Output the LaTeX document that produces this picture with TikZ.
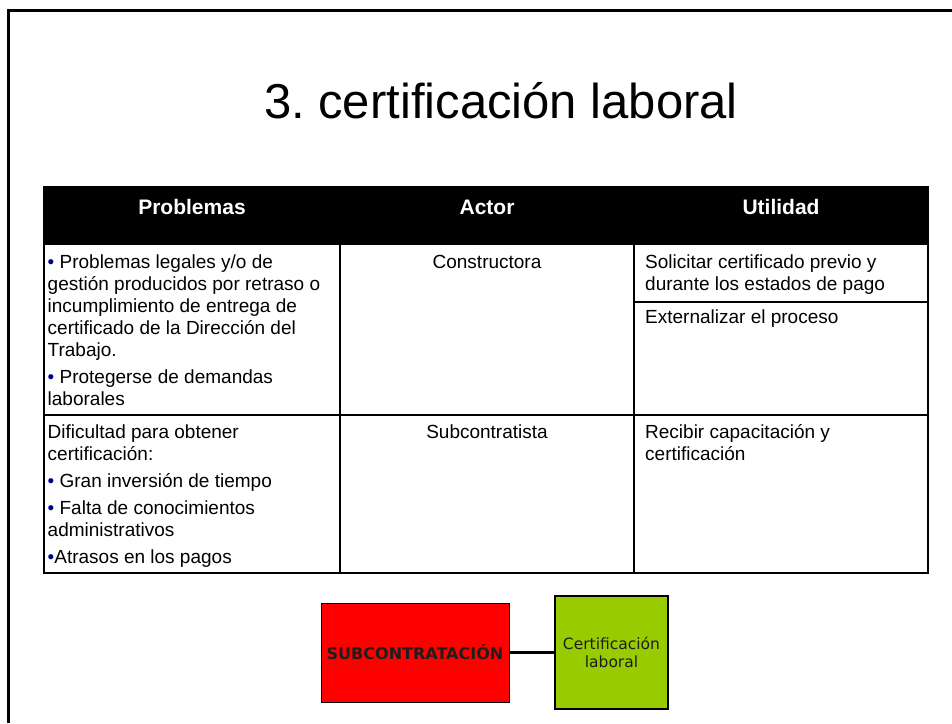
\documentclass[tikz,border=0pt]{standalone}
\usepackage{fontspec}
\setmainfont{Liberation Sans}
\newfontfamily\dejavu{DejaVu Sans}
\definecolor{bulletblue}{RGB}{0,0,140}
\definecolor{limegreen}{RGB}{153,204,0}
\definecolor{boxtext}{RGB}{30,30,30}
\newcommand{\bul}{{\color{bulletblue}•}}
\frenchspacing
\begin{document}
\begin{tikzpicture}[x=1pt,y=-1pt,
  cell/.style={anchor=north west, inner sep=0pt, align=left, font=\fontsize{19}{22}\selectfont},
  actor/.style={anchor=base, inner sep=0pt, font=\fontsize{19}{22}\selectfont},
  head/.style={anchor=base, inner sep=0pt, text=white, font=\bfseries\fontsize{21}{24}\selectfont},
  inner/.style={line width=1.4pt},
  outer/.style={line width=2.4pt}]
\useasboundingbox (0,0) rectangle (952,723);
% slide frame
\draw[line width=3pt] (8,723) -- (8,10) -- (952,10);
% title
\node[anchor=base, inner sep=0pt, font=\fontsize{49}{55}\selectfont] (title) at (501,118) {3. certificación laboral};
% table
\fill (44,187) rectangle (928,245);
\draw[inner] (340,245) -- (340,573);
\draw[inner] (634,245) -- (634,573);
\draw[inner] (44,415) -- (928,415);
\draw[inner] (634,302) -- (928,302);
\draw[outer] (44,187) rectangle (928,573);
% header
\node[head] (h1) at (192,214) {Problemas};
\node[head] (h2) at (487,214) {Actor};
\node[head] (h3) at (781,214) {Utilidad};
% row 1
\node[cell] (p1) at (47.5,252.6) {\strut\bul{} Problemas legales y/o de\\ gestión producidos por retraso o\\ incumplimiento de entrega de\\ certificado de la Dirección del\\ Trabajo.\\[5pt] \bul{} Protegerse de demandas\\ laborales};
\node[actor] (a1) at (487,268) {Constructora};
\node[cell] (u1) at (645,252.6) {\strut Solicitar certificado previo y\\ durante los estados de pago};
\node[anchor=base west, inner sep=0pt, font=\fontsize{19}{22}\selectfont] (u2) at (645,323) {Externalizar el proceso};
% row 2
\node[cell] (p2) at (47.5,422.6) {\strut Dificultad para obtener\\ certificación:\\[5pt] \bul{} Gran inversión de tiempo\\[5pt] \bul{} Falta de conocimientos\\ administrativos\\[5pt] \bul Atrasos en los pagos};
\node[actor] (a2) at (487,438) {Subcontratista};
\node[cell] (u3) at (645,422.6) {\strut Recibir capacitación y\\ certificación};
% bottom boxes
\node[draw, line width=1pt, fill=red, minimum width=188pt, minimum height=99pt, inner sep=0pt, text=boxtext, font=\dejavu\bfseries\fontsize{16}{18}\selectfont] (sub) at (415,652.5) {SUBCONTRATACIÓN};
\node[draw, line width=1.3pt, fill=limegreen, minimum width=113pt, minimum height=113pt, inner sep=0pt, align=center, text=boxtext, font=\dejavu\fontsize{15.5}{18}\selectfont] (cert) at (611.5,652.5) {Certificación\\ laboral};
\draw[line width=2.2pt] (sub.east) -- (cert.west);
\end{tikzpicture}
\end{document}
